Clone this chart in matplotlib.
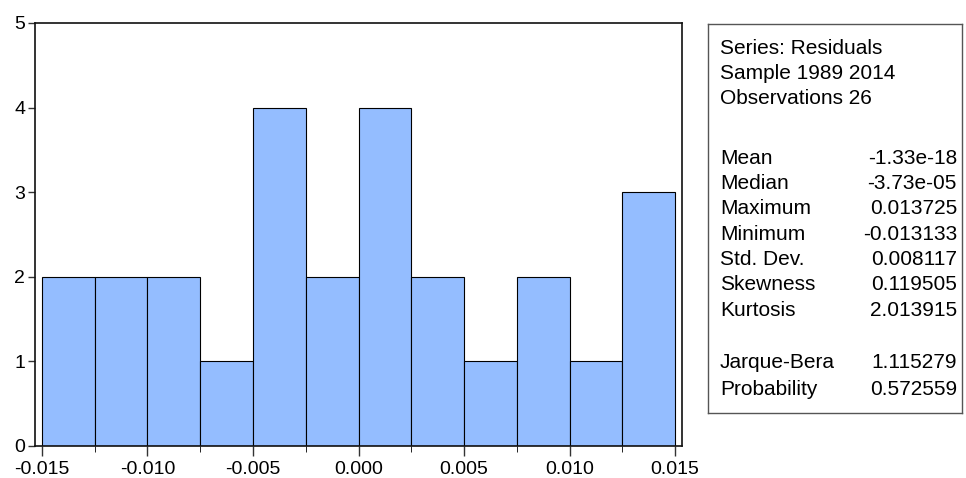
import numpy as np
import matplotlib.pyplot as plt
from matplotlib import font_manager

plt.rcParams['font.family'] = ['Liberation Sans', 'DejaVu Sans']

# histogram of residuals: bin edges and counts
bin_edges = [-0.015, -0.0125, -0.010, -0.0075, -0.005, -0.0025, 0.0,
             0.0025, 0.005, 0.0075, 0.010, 0.0125, 0.015]
counts = [2, 2, 2, 1, 4, 2, 4, 2, 1, 2, 1, 3]

x_ticks = [-0.015, -0.010, -0.005, 0.000, 0.005, 0.010, 0.015]
x_labels = ['-0.015', '-0.010', '-0.005', '0.000', '0.005', '0.010', '0.015']
y_ticks = [0, 1, 2, 3, 4, 5]

# summary statistics panel
stat_header = ['Series: Residuals', 'Sample 1989 2014', 'Observations 26']
stat_names = ['Mean', 'Median', 'Maximum', 'Minimum', 'Std. Dev.',
              'Skewness', 'Kurtosis']
stat_values = ['-1.33e-18', '-3.73e-05', '0.013725', '-0.013133',
               '0.008117', '0.119505', '2.013915']
test_names = ['Jarque-Bera', 'Probability']
test_values = ['1.115279', '0.572559']

# narrow face for the statistics box, if it is there
try:
    font_manager.findfont('Liberation Sans Narrow', fallback_to_default=False)
    box_family = ['Liberation Sans Narrow', 'Liberation Sans']
    box_fs = 18
except ValueError:
    box_family = ['Liberation Sans']
    box_fs = 15

W, H = 966, 478
fig = plt.figure(figsize=(W / 100, H / 100), dpi=100)

ax = fig.add_axes([35 / W, (H - 446) / H, (682 - 35) / W, (446 - 23) / H])
lefts = np.array(bin_edges[:-1])
widths = np.diff(bin_edges)
ax.bar(lefts, counts, width=widths, align='edge', color='#94bdff',
       edgecolor='black', linewidth=0.8)
ax.set_xlim(-0.01533, 0.01533)
ax.set_ylim(0, 5)
ax.set_xticks(x_ticks)
ax.set_xticklabels(x_labels)
ax.set_xticks(bin_edges, minor=True)
ax.set_yticks(y_ticks)
ax.tick_params(axis='both', labelsize=14, color='#333333', width=1.0)
ax.tick_params(axis='x', which='major', length=7, pad=4)
ax.tick_params(axis='x', which='minor', length=4.5)
ax.tick_params(axis='y', length=5, pad=2)
for side in ['top', 'right', 'left', 'bottom']:
    ax.spines[side].set_linewidth(1.2)
    ax.spines[side].set_color('#111111')

# statistics box, drawn in pixel units measured from its top-left corner
box_left, box_right, box_top, box_bottom = 708, 962, 24, 413
sx = fig.add_axes([box_left / W, (H - box_bottom) / H,
                   (box_right - box_left) / W, (box_bottom - box_top) / H])
sx.set_xlim(0, box_right - box_left)
sx.set_ylim(box_bottom - box_top, 0)
sx.set_xticks([])
sx.set_yticks([])
for side in sx.spines:
    sx.spines[side].set_color('#555555')
    sx.spines[side].set_linewidth(1.0)

label_x = 12
value_x = 249
kw = dict(fontsize=box_fs, family=box_family, va='baseline')
for i, txt in enumerate(stat_header):
    sx.text(label_x, 29.5 + i * 25.2, txt, **kw)
for i, (n, v) in enumerate(zip(stat_names, stat_values)):
    y = 139.5 + i * 25.4
    sx.text(label_x, y, n, **kw)
    sx.text(value_x, y, v, ha='right', **kw)
for i, (n, v) in enumerate(zip(test_names, test_values)):
    y = 344.5 + i * 26.5
    sx.text(label_x, y, n, **kw)
    sx.text(value_x, y, v, ha='right', **kw)

fig.savefig('out.png', dpi=100)
